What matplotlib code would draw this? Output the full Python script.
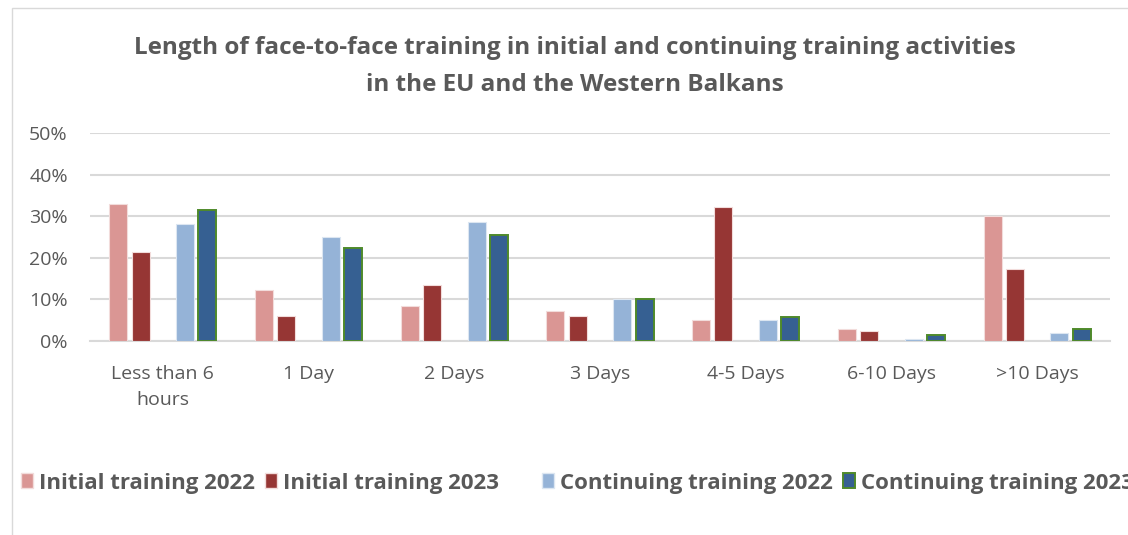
import matplotlib
matplotlib.use("Agg")
import matplotlib.pyplot as plt
import numpy as np
from matplotlib.patches import Patch, Rectangle

categories = ["Less than 6\nhours", "1 Day", "2 Days", "3 Days", "4-5 Days", "6-10 Days", ">10 Days"]
initial_2022 = [33.0, 12.3, 8.5, 7.3, 5.1, 2.8, 30.0]
initial_2023 = [21.3, 6.0, 13.4, 6.0, 32.2, 2.4, 17.2]
continuing_2022 = [28.2, 25.0, 28.6, 10.0, 5.0, 0.4, 1.9]
continuing_2023 = [31.6, 22.3, 25.4, 10.2, 5.8, 1.4, 3.0]
series_labels = ["Initial training 2022", "Initial training 2023", "Continuing training 2022", "Continuing training 2023"]
yticks = [0, 10, 20, 30, 40, 50]

plt.rcParams['font.family'] = ['Open Sans', 'DejaVu Sans']
grey = "#595959"

fig = plt.figure(figsize=(11.28, 5.35), dpi=100)
ax = fig.add_axes([90/1128, 1-341/535, 1020/1128, (341-133)/535])

x = np.arange(len(categories))
slot = 0.153
bw = 0.124
offsets = [-2*slot, -1*slot, 1*slot, 2*slot]
colors = ["#DA9694", "#963634", "#95B3D7", "#366092"]
edges = ["#F2DCDB", "#F2DCDB", "#DCE6F1", "#4F8A2B"]
lws = [0.8, 0.8, 0.8, 1.4]
data = [initial_2022, initial_2023, continuing_2022, continuing_2023]
for vals, off, c, ec, lw, lab in zip(data, offsets, colors, edges, lws, series_labels):
    ax.bar(x + off, vals, width=bw, color=c, edgecolor=ec, linewidth=lw, label=lab, zorder=3)

ax.set_xlim(-0.5, len(categories) - 0.5)
ax.set_ylim(0, 50)
ax.set_yticks(yticks)
ax.set_yticklabels([f"{t}%" for t in yticks])
ax.yaxis.grid(True, color="#D9D9D9", linewidth=1.5, zorder=0)
ax.set_axisbelow(True)
for s in ["top", "right", "left"]:
    ax.spines[s].set_visible(False)
ax.spines["bottom"].set_color("#D9D9D9")
ax.spines["bottom"].set_linewidth(1.5)
ax.set_xticks(x)
ax.set_xticklabels(categories, fontsize=14, color=grey, linespacing=1.6, va="top")
ax.tick_params(axis="both", length=0, colors=grey, labelsize=14)
ax.tick_params(axis="x", pad=17)
ax.tick_params(axis="y", pad=16)

fig.text(575/1128, 1-48/535, "Length of face-to-face training in initial and continuing training activities",
         ha="center", va="center", fontsize=17.5, fontweight="bold", color=grey)
fig.text(575/1128, 1-85/535, "in the EU and the Western Balkans",
         ha="center", va="center", fontsize=17.5, fontweight="bold", color=grey)

# chart border
fig.add_artist(Rectangle((12/1128, -0.1), 1.2, 1 - 8/535 + 0.1, transform=fig.transFigure,
                         fill=False, edgecolor="#D9D9D9", linewidth=1.0))

handles = [Patch(facecolor=colors[0], edgecolor=edges[0]),
           Patch(facecolor=colors[1], edgecolor=edges[1]),
           Patch(facecolor="none", edgecolor="none"),
           Patch(facecolor=colors[2], edgecolor=edges[2]),
           Patch(facecolor=colors[3], edgecolor=edges[3], linewidth=1.4)]
labels = [series_labels[0], series_labels[1], " ", series_labels[2], series_labels[3]]
leg = fig.legend(handles, labels, loc="center left", bbox_to_anchor=(14/1128, 1-483/535), ncol=5,
                 frameon=False, handlelength=0.54, handleheight=0.65, handletextpad=0.27, columnspacing=0.45,
                 borderaxespad=0, borderpad=0.3,
                 prop={"weight": "bold", "size": 16})
for t in leg.get_texts():
    t.set_color(grey)

fig.savefig("out.png", dpi=100)
